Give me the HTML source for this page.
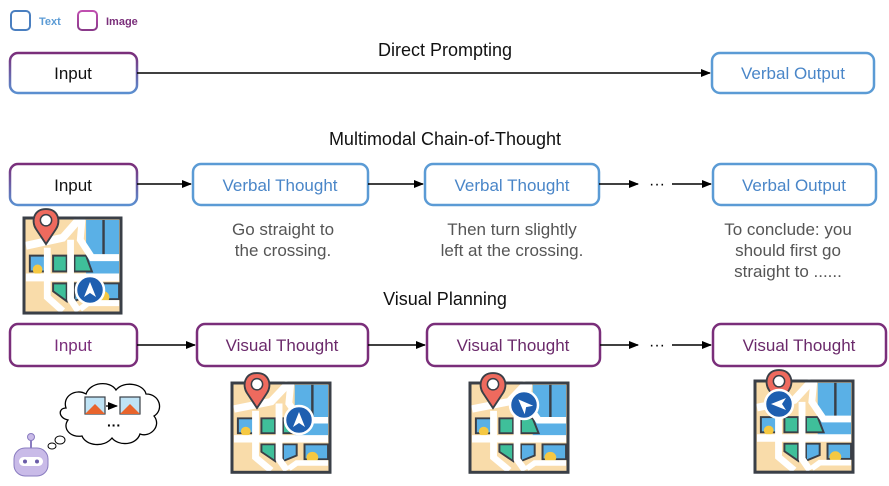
<!DOCTYPE html>
<html><head><meta charset="utf-8"><style>
body{margin:0;background:#fff;}
svg{display:block;font-family:"Liberation Sans",sans-serif;}
</style></head><body>
<svg width="889" height="486" viewBox="0 0 889 486" xmlns="http://www.w3.org/2000/svg">
<defs>
<linearGradient id="g" x1="0" y1="0" x2="0" y2="1">
<stop offset="0" stop-color="#7a2e7a"/><stop offset="1" stop-color="#5b8fd0"/></linearGradient>
<linearGradient id="gl" x1="0" y1="0" x2="0" y2="1">
<stop offset="0" stop-color="#c04fb0"/><stop offset="1" stop-color="#8a3a8a"/></linearGradient>
<marker id="a" markerWidth="10" markerHeight="8" refX="9" refY="4" orient="auto" markerUnits="userSpaceOnUse">
<path d="M0,0 L10,4 L0,8 Z" fill="#000"/></marker>
<g id="map">
<rect x="0" y="0" width="100" height="96" fill="#f9dcaa" stroke="#3a3f47" stroke-width="3"/>
<rect x="64" y="2" width="34" height="58" fill="#5ab0e6"/>
<line x1="82" y1="2" x2="82" y2="40" stroke="#3a3f47" stroke-width="2.5"/>
<rect x="30" y="38" width="14" height="16" fill="#3fbf9a" stroke="#3a3f47" stroke-width="2"/>
<rect x="6" y="38" width="16" height="16" fill="#5ab0e6" stroke="#3a3f47" stroke-width="2"/>
<circle cx="14" cy="52" r="5" fill="#f5c842"/>
<path d="M30,66 L44,66 L44,84 L30,74 Z" fill="#3fbf9a" stroke="#3a3f47" stroke-width="2"/>
<path d="M52,38 L64,38 L70,54 L52,54 Z" fill="#3fbf9a" stroke="#3a3f47" stroke-width="2"/>
<path d="M52,66 L66,66 L66,78 L52,84 Z" fill="#5ab0e6" stroke="#3a3f47" stroke-width="2"/>
<rect x="74" y="66" width="24" height="16" fill="#5ab0e6" stroke="#3a3f47" stroke-width="2"/>
<circle cx="82" cy="80" r="6" fill="#f5c842"/>
<path d="M2,56 L98,56 L98,64 L2,64 Z" fill="#fff"/>
<path d="M2,28 L40,20 L58,0" fill="none" stroke="#fff" stroke-width="8"/>
<path d="M48,22 L48,82 L56,94" fill="none" stroke="#fff" stroke-width="7"/>
<path d="M24,30 L24,80 L40,94" fill="none" stroke="#fff" stroke-width="7"/>
<path d="M60,0 L58,22 L70,40 L98,40" fill="none" stroke="#fff" stroke-width="7"/>
<path d="M58,92 L66,86 L98,86" fill="none" stroke="#fff" stroke-width="6"/>
<rect x="0" y="0" width="100" height="96" fill="none" stroke="#3a3f47" stroke-width="3"/>
</g>
<g id="pin"><g transform="scale(1.25)"><path d="M0,0 C-10,0 -12,10 -8,16 L0,28 L8,16 C12,10 10,0 0,0 Z" fill="#ee6a5e" stroke="#3a3f47" stroke-width="1.5"/><circle cx="0" cy="9" r="4.5" fill="#fff" stroke="#3a3f47" stroke-width="1.2"/></g></g>
<g id="nav"><circle r="14" fill="#1e5fb0" stroke="#fff" stroke-width="2.5"/><path d="M0,-8 L6,7 L0,3 L-6,7 Z" fill="#fff"/></g>
</defs>

<rect x="11" y="11" width="19" height="19" rx="4" fill="none" stroke="#4a7fc0" stroke-width="2"/>
<text x="39" y="25" font-size="11" font-weight="bold" fill="#5b9bd5">Text</text>
<rect x="78" y="11" width="19" height="19" rx="4" fill="none" stroke="url(#gl)" stroke-width="2"/>
<text x="106" y="25" font-size="11" font-weight="bold" fill="#7a2e7a">Image</text>

<text x="445" y="56" font-size="18" text-anchor="middle" fill="#111">Direct Prompting</text>
<rect x="10" y="53" width="127" height="40" rx="8" fill="#fff" stroke="url(#g)" stroke-width="2.5"/>
<text x="73" y="79" font-size="17" text-anchor="middle" fill="#111">Input</text>
<line x1="137" y1="73" x2="710" y2="73" stroke="#000" stroke-width="1.5" marker-end="url(#a)"/>
<rect x="712" y="53" width="162" height="40" rx="8" fill="#fff" stroke="#5b9bd5" stroke-width="2.5"/>
<text x="793" y="79" font-size="17" text-anchor="middle" fill="#4a86c8">Verbal Output</text>

<text x="445" y="145" font-size="18" text-anchor="middle" fill="#111">Multimodal Chain-of-Thought</text>
<rect x="10" y="164" width="127" height="41" rx="8" fill="#fff" stroke="url(#g)" stroke-width="2.5"/>
<text x="73" y="191" font-size="17" text-anchor="middle" fill="#111">Input</text>
<line x1="137" y1="184" x2="191" y2="184" stroke="#000" stroke-width="1.5" marker-end="url(#a)"/>
<rect x="193" y="164" width="175" height="41" rx="8" fill="#fff" stroke="#5b9bd5" stroke-width="2.5"/>
<text x="280" y="191" font-size="17" text-anchor="middle" fill="#4a86c8">Verbal Thought</text>
<line x1="368" y1="184" x2="423" y2="184" stroke="#000" stroke-width="1.5" marker-end="url(#a)"/>
<rect x="425" y="164" width="174" height="41" rx="8" fill="#fff" stroke="#5b9bd5" stroke-width="2.5"/>
<text x="512" y="191" font-size="17" text-anchor="middle" fill="#4a86c8">Verbal Thought</text>
<line x1="599" y1="184" x2="638" y2="184" stroke="#000" stroke-width="1.5" marker-end="url(#a)"/>
<text x="657" y="189" font-size="16" text-anchor="middle" fill="#000">···</text>
<line x1="672" y1="184" x2="711" y2="184" stroke="#000" stroke-width="1.5" marker-end="url(#a)"/>
<rect x="713" y="164" width="163" height="41" rx="8" fill="#fff" stroke="#5b9bd5" stroke-width="2.5"/>
<text x="794" y="191" font-size="17" text-anchor="middle" fill="#4a86c8">Verbal Output</text>
<g font-size="17" fill="#555" text-anchor="middle">
<text x="283" y="235">Go straight to</text><text x="283" y="256">the crossing.</text>
<text x="512" y="235">Then turn slightly</text><text x="512" y="256">left at the crossing.</text>
<text x="788" y="235">To conclude: you</text><text x="788" y="256">should first go</text><text x="788" y="277">straight to ......</text>
</g>
<use href="#map" transform="translate(24,218) scale(0.97,0.99)"/>
<use href="#pin" x="46" y="209"/>
<use href="#nav" x="90" y="290"/>

<text x="445" y="305" font-size="18" text-anchor="middle" fill="#111">Visual Planning</text>
<rect x="10" y="324" width="127" height="42" rx="8" fill="#fff" stroke="#7a2e7a" stroke-width="2.5"/>
<text x="73" y="351" font-size="17" text-anchor="middle" fill="#7a2e7a">Input</text>
<line x1="137" y1="345" x2="195" y2="345" stroke="#000" stroke-width="1.5" marker-end="url(#a)"/>
<rect x="197" y="324" width="171" height="42" rx="8" fill="#fff" stroke="#7a2e7a" stroke-width="2.5"/>
<text x="282" y="351" font-size="17" text-anchor="middle" fill="#6b2a6b">Visual Thought</text>
<line x1="368" y1="345" x2="425" y2="345" stroke="#000" stroke-width="1.5" marker-end="url(#a)"/>
<rect x="427" y="324" width="173" height="42" rx="8" fill="#fff" stroke="#7a2e7a" stroke-width="2.5"/>
<text x="513" y="351" font-size="17" text-anchor="middle" fill="#6b2a6b">Visual Thought</text>
<line x1="600" y1="345" x2="638" y2="345" stroke="#000" stroke-width="1.5" marker-end="url(#a)"/>
<text x="657" y="350" font-size="16" text-anchor="middle" fill="#000">···</text>
<line x1="672" y1="345" x2="711" y2="345" stroke="#000" stroke-width="1.5" marker-end="url(#a)"/>
<rect x="713" y="324" width="173" height="42" rx="8" fill="#fff" stroke="#7a2e7a" stroke-width="2.5"/>
<text x="799" y="351" font-size="17" text-anchor="middle" fill="#6b2a6b">Visual Thought</text>

<use href="#map" transform="translate(232,383) scale(0.98,0.93)"/>
<use href="#pin" x="257" y="373"/>
<use href="#nav" x="299" y="420"/>
<use href="#map" transform="translate(470,383) scale(0.98,0.93)"/>
<use href="#pin" x="493" y="373"/>
<g transform="translate(524,405) rotate(-45)"><use href="#nav"/></g>
<use href="#map" transform="translate(755,381) scale(0.98,0.95)"/>
<use href="#pin" x="779" y="370"/>
<g transform="translate(779,404) rotate(-90)"><use href="#nav"/></g>

<path d="M66,408 C62,396 76,388 86,394 C90,382 110,380 116,390 C124,380 144,384 146,394 C160,394 164,410 154,416 C162,426 150,438 140,434 C136,446 118,446 112,438 C104,448 86,446 82,436 C70,438 62,428 68,420 C58,418 58,408 66,408 Z" fill="#fff" stroke="#000" stroke-width="1.3"/>
<rect x="85" y="397" width="20" height="17" fill="#bfe3f5" stroke="#3a3f47" stroke-width="1.2"/>
<path d="M85,414 L95,404 L105,414 Z" fill="#e8642c"/>
<rect x="120" y="397" width="20" height="17" fill="#bfe3f5" stroke="#3a3f47" stroke-width="1.2"/>
<path d="M120,414 L130,404 L140,414 Z" fill="#e8642c"/>
<line x1="106" y1="406" x2="117" y2="406" stroke="#000" stroke-width="1.3" marker-end="url(#a)"/>
<text x="114" y="430" font-size="14" font-weight="bold" text-anchor="middle">···</text>
<ellipse cx="60" cy="440" rx="5" ry="4" fill="#fff" stroke="#000" stroke-width="1"/>
<ellipse cx="52" cy="446" rx="4" ry="3" fill="#fff" stroke="#000" stroke-width="1"/>
<circle cx="31" cy="437" r="3.5" fill="#c9bbe8" stroke="#8a7cc0"/>
<line x1="31" y1="440" x2="31" y2="448" stroke="#8a7cc0" stroke-width="2"/>
<rect x="14" y="448" width="34" height="28" rx="11" fill="#c9bbe8" stroke="#8a7cc0"/>
<rect x="19" y="457" width="24" height="9" rx="4.5" fill="#fff"/>
<circle cx="25" cy="461.5" r="2" fill="#6a5ca8"/><circle cx="37" cy="461.5" r="2" fill="#6a5ca8"/>
</svg>
</body></html>
